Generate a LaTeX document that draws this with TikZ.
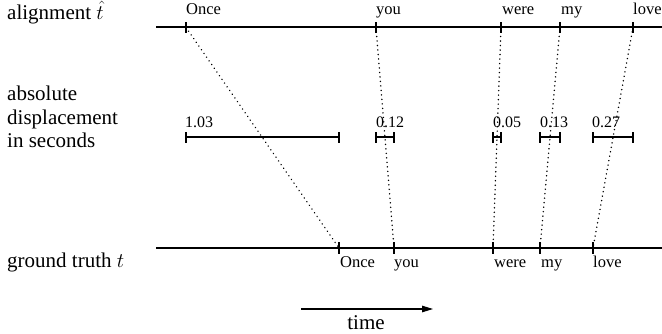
\documentclass[tikz,border=0pt]{standalone}
\usepackage{fontspec}
\setmainfont{Liberation Serif}
\usetikzlibrary{arrows.meta}
\tikzset{
  axisline/.style={line width=2pt},
  tickmark/.style={line width=1.8pt},
  bar/.style={line width=2pt},
  barcap/.style={line width=2pt},
  dotline/.style={line width=1.6pt, dash pattern=on 0.01pt off 4.5pt, line cap=round},
  biglabel/.style={font=\fontsize{21}{24}\selectfont, inner sep=0pt, anchor=base west},
  wordlabel/.style={font=\fontsize{16.5}{19}\selectfont, inner sep=0pt, anchor=base west},
  numlabel/.style={font=\fontsize{16}{19}\selectfont, inner sep=0pt, anchor=base west},
}
\begin{document}
\begin{tikzpicture}[x=1pt,y=-1pt]
\useasboundingbox (0,0) rectangle (662,334);
% coordinates
\coordinate (topL) at (156,27.5);
\coordinate (topR) at (662,27.5);
\coordinate (botL) at (156,248);
\coordinate (botR) at (662,248);
\foreach \n/\x in {A/186,B/376,C/501,D/560,E/633}{\coordinate (t\n) at (\x,27.5);}
\foreach \n/\x in {A/339,B/394,C/493,D/540,E/593}{\coordinate (b\n) at (\x,248);}
% left labels
\node[biglabel] (lalign) at (7,19.5) {alignment $\hat{t}$};
\node[biglabel] (labs1) at (7,101) {absolute};
\node[biglabel] (labs2) at (7,124.5) {displacement};
\node[biglabel] (labs3) at (7,148) {in seconds};
\node[biglabel] (lgt) at (7,268) {ground truth $t$};
% axes
\draw[axisline] (topL) -- (topR);
\draw[axisline] (botL) -- (botR);
\foreach \n in {A,B,C,D,E}{
  \draw[tickmark] ([yshift=-5.5pt]t\n) -- ([yshift=5.5pt]t\n);
  \draw[tickmark] ([yshift=-5.5pt]b\n) -- ([yshift=5.5pt]b\n);
  \draw[dotline] (t\n) -- (b\n);
}
% top words
\node[wordlabel] (wA) at (186,15) {Once};
\node[wordlabel] (wB) at (376,15) {you};
\node[wordlabel] (wC) at (502,15) {were};
\node[wordlabel] (wD) at (561,15) {my};
\node[wordlabel] (wE) at (633,15) {love};
% bottom words
\node[wordlabel] (gA) at (340,268) {Once};
\node[wordlabel] (gB) at (394,268) {you};
\node[wordlabel] (gC) at (494,268) {were};
\node[wordlabel] (gD) at (541,268) {my};
\node[wordlabel] (gE) at (593,268) {love};
% displacement bars
\foreach \l/\r in {186/339,376/394,493/501,540/560,593/633}{
  \coordinate (bl\l) at (\l,137.5);
  \coordinate (br\l) at (\r,137.5);
  \draw[bar] (bl\l) -- (br\l);
  \draw[barcap] ([yshift=-5.5pt]bl\l) -- ([yshift=5.5pt]bl\l);
  \draw[barcap] ([yshift=-5.5pt]br\l) -- ([yshift=5.5pt]br\l);
}
\node[numlabel] (n1) at (185,128) {1.03};
\node[numlabel] (n2) at (376,128) {0.12};
\node[numlabel] (n3) at (493,128) {0.05};
\node[numlabel] (n4) at (540,128) {0.13};
\node[numlabel] (n5) at (592,128) {0.27};
% time arrow
\coordinate (ta) at (301,309);
\coordinate (tb) at (433,309);
\draw[line width=1.2pt, -{Triangle[length=11pt,width=6.5pt]}] (ta) -- (tb);
\node[biglabel, anchor=base] (ltime) at (366,329) {time};
\end{tikzpicture}
\end{document}
